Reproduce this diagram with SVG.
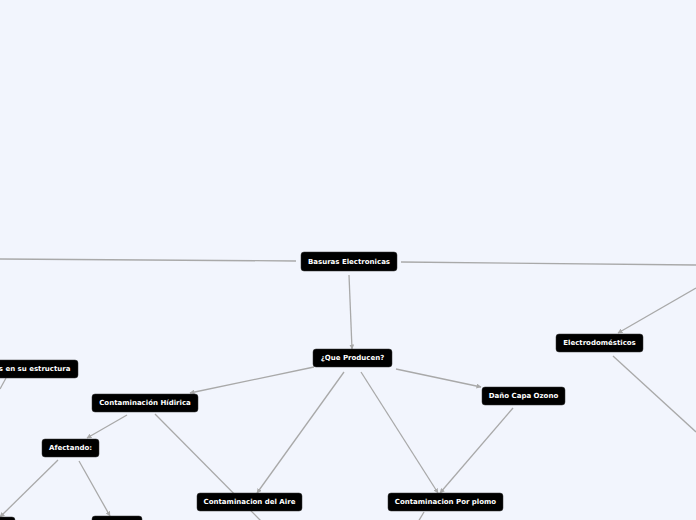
<svg xmlns="http://www.w3.org/2000/svg" width="696" height="520" viewBox="0 0 696 520">
<defs>
<marker id="ar" viewBox="0 0 10 10" refX="9" refY="5" markerWidth="5" markerHeight="5" orient="auto" markerUnits="userSpaceOnUse"><path d="M0,0 L10,5 L0,10 z" fill="#a9a9a9"/></marker>
<style>
.n rect{fill:#000;stroke:#333;stroke-width:0.5}
.n text{fill:#fff;font-family:"DejaVu Sans",sans-serif;font-weight:bold;font-size:7px;text-anchor:middle;dominant-baseline:central}
#edges path{fill:none;stroke:#a9a9a9;stroke-width:1.3}
.a{marker-end:url(#ar)}
</style>
</defs>
<rect width="696" height="520" fill="#f2f5fd"/>
<g id="edges">
<path d="M296,261 L0,259"/>
<path d="M401,262 L696,265"/>
<path class="a" d="M349,275 L352,349"/>
<path class="a" d="M314,367 L190,393"/>
<path class="a" d="M344,372 L257,493"/>
<path class="a" d="M361,372 L438,493"/>
<path class="a" d="M396,369 L481,387"/>
<path class="a" d="M513,408 L440,493"/>
<path class="a" d="M127,415 L87,438"/>
<path d="M155,414 L262,522"/>
<path d="M424,512 L418,522"/>
<path class="a" d="M696,288 L618,333"/>
<path d="M613,356 L696,432"/>
<path d="M6,378 L0,389"/>
<path class="a" d="M58,460 L0,517"/>
<path class="a" d="M79,461 L110,516"/>
</g>
<g id="n1" class="n"><rect x="301" y="252" width="96" height="19" rx="3"/><text x="349" y="261.5">Basuras Electronicas</text></g>
<g id="n2" class="n"><rect x="313" y="349" width="79" height="18" rx="3"/><text x="352.5" y="358">¿Que Producen?</text></g>
<g id="n3" class="n"><rect x="-20" y="360" width="98" height="18" rx="3"/><text x="70.5" y="369" style="text-anchor:end">s en su estructura</text></g>
<g id="n4" class="n"><rect x="92" y="394" width="106" height="18" rx="3"/><text x="145" y="403">Contaminación Hídirica</text></g>
<g id="n5" class="n"><rect x="482" y="387" width="83" height="18" rx="3"/><text x="523.5" y="396">Daño Capa Ozono</text></g>
<g id="n6" class="n"><rect x="556" y="334" width="87" height="18" rx="3"/><text x="599.5" y="343">Electrodomésticos</text></g>
<g id="n7" class="n"><rect x="42" y="439" width="57" height="18" rx="3"/><text x="70.5" y="448">Afectando:</text></g>
<g id="n8" class="n"><rect x="197" y="493" width="105" height="18" rx="3"/><text x="249.5" y="502">Contaminacion del Aire</text></g>
<g id="n9" class="n"><rect x="388" y="493" width="115" height="18" rx="3"/><text x="445.5" y="502">Contaminacion Por plomo</text></g>
<g id="n10" class="n"><rect x="-40" y="517" width="55" height="18" rx="3"/></g>
<g id="n11" class="n"><rect x="92" y="516" width="50" height="18" rx="3"/></g>
</svg>
